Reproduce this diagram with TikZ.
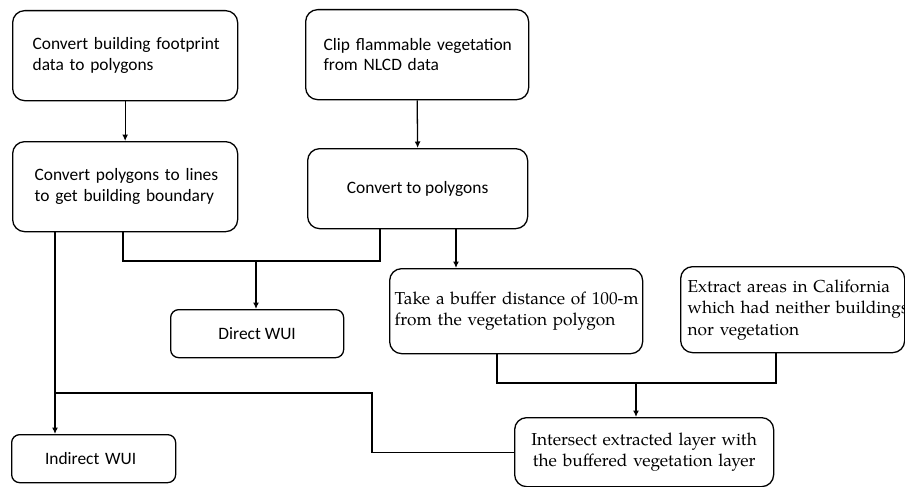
\documentclass[tikz,border=0pt]{standalone}
\usepackage{fontspec}
\setmainfont{Carlito}
\newfontfamily\serifpal{TeX Gyre Pagella}
\usetikzlibrary{arrows.meta,calc}
\begin{document}
\begin{tikzpicture}[x=1pt,y=-1pt, line width=1.3pt,
  box/.style={draw, rounded corners=12pt, anchor=north west, inner ysep=0pt},
  sbox/.style={draw, rounded corners=8pt, anchor=north west, inner ysep=0pt},
  sanstxt/.style={font=\fontsize{17.4}{20.5}\selectfont},
  seriftxt/.style={font=\serifpal\fontsize{17.3}{21.5}\selectfont},
  arr/.style={-{Latex[length=6.5pt,width=6pt]}}]
\useasboundingbox (0,0) rectangle (905,487);
\clip (0,0) rectangle (905,487);

\node[box, sanstxt, minimum width=225pt, minimum height=90pt, text width=185pt, inner xsep=20pt, align=left]
  (A) at (12,10) {\mbox{Convert building footprint}\\\mbox{data to polygons}\\[-2pt]};
\node[box, sanstxt, minimum width=225pt, minimum height=90pt, text width=181pt, inner xsep=22pt, align=left]
  (B) at (12,141) {\mbox{Convert polygons to lines}\\\mbox{to get building boundary}};
\node[box, sanstxt, minimum width=223pt, minimum height=90pt, text width=187pt, inner xsep=18pt, align=left]
  (C) at (305,9) {\mbox{Clip flammable vegetation}\\\mbox{from NLCD data}\\[-2pt]};
\node[box, sanstxt, minimum width=220pt, minimum height=80pt, align=center]
  (D) at (307,148) {Convert to polygons};
\node[box, seriftxt, minimum width=253pt, minimum height=85pt, text width=243pt, inner xsep=5pt, align=left]
  (T) at (389,268) {\mbox{Take a buffer distance of 100-m}\\\mbox{from the vegetation polygon}\\[4pt]};
\node[box, seriftxt, minimum width=224pt, minimum height=86pt, text width=210pt, inner xsep=7pt, align=left]
  (E) at (680,266) {\mbox{Extract areas in California}\\\mbox{which had neither buildings}\\\mbox{nor vegetation}\\[-6pt]};
\node[box, seriftxt, minimum width=259pt, minimum height=69pt, text width=245pt, inner xsep=7pt, align=center]
  (I) at (514,417) {\mbox{Intersect extracted layer with}\\\mbox{the buffered vegetation layer}\\[2pt]};
\node[sbox, sanstxt, minimum width=173pt, minimum height=48pt, align=center]
  (DW) at (170,309) {Direct WUI};
\node[sbox, sanstxt, minimum width=164pt, minimum height=48pt, text width=140pt, inner xsep=12pt, align=center]
  (IW) at (11,434) {\hspace*{-6pt}Indirect WUI};

% connectors
\draw[arr] (A.south) -- (B.north);
\draw[arr] (C.south) -- (D.north);

\coordinate (jd) at (256,261);
\draw ([xshift=111pt]B.south west) |- (jd) -| ([xshift=73pt]D.south west);
\draw[arr] (jd) -- (jd |- DW.north);

\coordinate (bl) at ([xshift=43pt]B.south west);
\draw[arr] (bl) -- (bl |- IW.north);

\coordinate (ji) at (372,393);
\draw (I.west) -| (ji) -- (bl |- ji);

\coordinate (dt) at ([xshift=149pt]D.south west);
\draw[arr] (dt) -- (dt |- T.north);

\coordinate (jm) at (636,383);
\draw ([xshift=108pt]T.south west) |- (jm) -| ([xshift=96pt]E.south west);
\draw[arr] (jm) -- (jm |- I.north);
\end{tikzpicture}
\end{document}
